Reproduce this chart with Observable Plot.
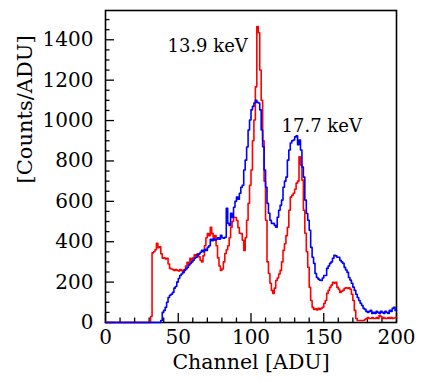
<!DOCTYPE html>
<html><head><meta charset="utf-8">
<script src="https://cdn.jsdelivr.net/npm/d3@7"></script>
<script src="https://cdn.jsdelivr.net/npm/@observablehq/plot@0.6"></script>
<style>
html,body{margin:0;padding:0;background:#fff;}
</style>
</head><body><div id="chart"></div>
<script>
// Counts per 1-ADU channel bin (channels 0..199)
const redCounts = [
  0,0,0,0,0,0,0,0,0,0, 0,0,0,0,0,0,0,0,0,0, 0,0,0,0,0,0,0,0,0,0,
  0,30,345,350,360,392,370,375,340,318,
  320,315,318,290,268,265,262,258,262,258,
  255,262,258,248,262,280,298,290,318,305,
  320,335,330,340,325,308,300,330,380,420,
  440,430,472,440,420,430,380,320,280,258,
  265,300,342,360,380,420,472,500,521,520,
  505,470,442,440,407,357,420,506,590,680,
  755,900,1003,1167,1465,1435,1250,1100,900,700,
  506,300,243,194,159,144,170,208,220,240,
  258,300,357,390,430,472,556,621,630,640,
  660,690,700,820,780,705,556,442,350,273,
  174,109,75,65,68,62,70,65,70,75,
  94,109,144,160,174,185,199,195,199,174,
  165,149,155,159,169,172,169,172,165,140,
  109,60,20,10,10,10,10,10,15,20,
  25,20,20,25,20,20,25,20,35,30,
  20,25,20,20,25,20,25,20,22,25
];
const blueCounts = [
  0,0,0,0,0,0,0,0,0,0, 0,0,0,0,0,0,0,0,0,0, 0,0,0,0,0,0,0,0,0,0,
  0,0,0,0,0,0,0,0,10,50,
  60,75,100,124,135,140,149,170,178,200,
  218,233,240,248,258,265,273,285,293,300,
  308,318,323,335,340,348,357,350,362,357,
  372,380,412,405,415,408,412,420,412,432,
  420,417,422,566,491,480,541,520,571,600,
  621,610,640,670,680,755,804,869,953,1003,
  1053,1070,1087,1100,1090,1087,1053,953,870,755,
  670,590,541,506,491,491,481,472,521,556,
  580,606,670,700,720,804,854,889,900,904,
  919,924,880,904,854,770,720,606,540,506,
  457,372,323,293,243,223,215,210,208,220,
  233,233,268,280,293,300,318,333,330,323,
  323,308,300,293,273,260,248,223,210,194,
  175,159,140,124,109,95,84,70,65,55,
  50,55,60,45,50,45,55,50,45,55,
  50,45,55,50,45,60,55,70,75,60
];
const xTicks = [0, 50, 100, 150, 200];
const yTicks = [0, 200, 400, 600, 800, 1000, 1200, 1400];
const xMinor = d3.range(0, 201, 10);
const yMinor = d3.range(0, 1501, 50);
const peakLabels = [
  {text: "13.9 keV", ch: 42.6, counts: 1340},
  {text: "17.7 keV", ch: 121, counts: 943}
];
const xTitle = "Channel [ADU]";
const yTitle = "[Counts/ADU]";
const serif = "DejaVu Serif";

function steps(counts) {
  const pts = counts.map((c, i) => ({x: i, y: c}));
  pts.push({x: counts.length, y: counts[counts.length - 1]});
  return pts;
}

const chart = Plot.plot({
  width: 422,
  height: 382,
  marginLeft: 105,
  marginRight: 26,
  marginTop: 10,
  marginBottom: 60,
  x: {domain: [0, 200], ticks: xTicks, tickSize: 0, tickPadding: 7, tickFormat: d => String(d), label: null},
  y: {domain: [0, 1545], ticks: yTicks, tickSize: 0, tickPadding: 12, tickFormat: d => String(d), label: null},
  style: {fontSize: "20px", fontFamily: serif, color: "black", background: "white"},
  marks: [
    Plot.frame({stroke: "black", strokeWidth: 1.6}),
    Plot.ruleY(yMinor, {y: d => d, x1: 0, x2: d => (yTicks.includes(d) ? 6.2 : 3.1), stroke: "black", strokeWidth: 1.3}),
    Plot.ruleX(xMinor, {x: d => d, y1: 0, y2: d => (xTicks.includes(d) ? 45 : 22), stroke: "black", strokeWidth: 1.3}),
    Plot.line(steps(redCounts), {x: "x", y: "y", curve: "step-after", stroke: "#ff0000", strokeWidth: 1.6}),
    Plot.line(steps(blueCounts), {x: "x", y: "y", curve: "step-after", stroke: "#0000ff", strokeWidth: 1.6}),
    Plot.text(peakLabels, {x: "ch", y: "counts", text: "text", textAnchor: "start", lineAnchor: "bottom", fontSize: 18, fontFamily: serif, fill: "black"}),
    Plot.text([xTitle], {frameAnchor: "bottom", lineAnchor: "middle", dy: 40, text: d => d, fontSize: 20.5, fontFamily: serif, fill: "black"}),
    Plot.text([yTitle], {frameAnchor: "left", lineAnchor: "middle", dx: -80, dy: 17, rotate: -90, text: d => d, fontSize: 21, fontFamily: serif, fill: "black"})
  ]
});
document.getElementById("chart").appendChild(chart);
</script>
</body></html>
